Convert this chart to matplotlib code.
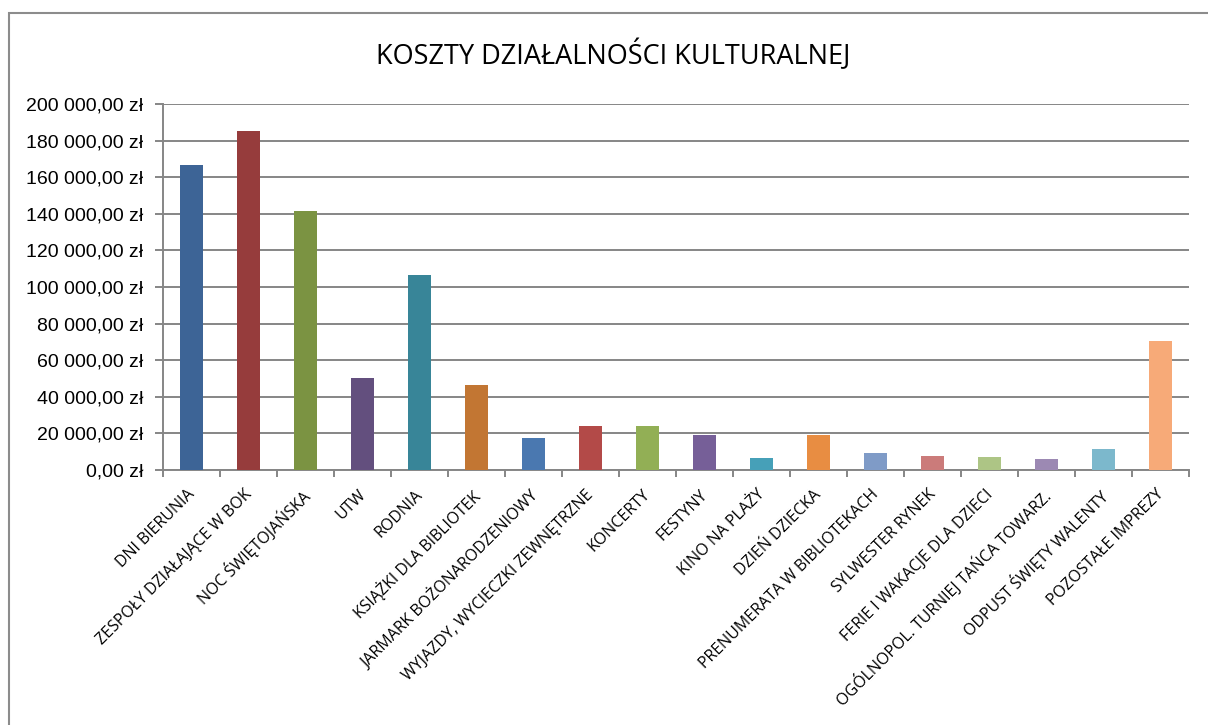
import matplotlib
matplotlib.use("Agg")
import matplotlib.pyplot as plt
from matplotlib.patches import Rectangle
from matplotlib.ticker import FuncFormatter
from matplotlib.transforms import ScaledTranslation

categories = [
    "DNI BIERUNIA", "ZESPOŁY DZIAŁAJĄCE W BOK", "NOC ŚWIĘTOJAŃSKA", "UTW", "RODNIA",
    "KSIĄŻKI DLA BIBLIOTEK", "JARMARK BOŻONARODZENIOWY", "WYJAZDY, WYCIECZKI ZEWNĘTRZNE",
    "KONCERTY", "FESTYNY", "KINO NA PLAŻY", "DZIEŃ DZIECKA", "PRENUMERATA W BIBLIOTEKACH",
    "SYLWESTER RYNEK", "FERIE I WAKACJE DLA DZIECI", "OGÓLNOPOL. TURNIEJ TAŃCA TOWARZ.",
    "ODPUST ŚWIĘTY WALENTY", "POZOSTAŁE IMPREZY",
]
values = [166400, 185000, 141800, 50400, 106800, 46500, 17500, 24100, 24100, 19200,
          6600, 19200, 9300, 7700, 7100, 6000, 11500, 70600]
colors = ["#3D6496", "#963C3C", "#7B9342", "#634F7E", "#388598", "#C27633", "#4A78B0",
          "#B34A48", "#92AF55", "#765F98", "#46A0B8", "#E88D42", "#7F9BC7", "#CB7B7A",
          "#ADC585", "#9C89B3", "#7CB8CC", "#F7AA78"]
title = "KOSZTY DZIAŁALNOŚCI KULTURALNEJ"
y_ticks = list(range(0, 200001, 20000))

fig = plt.figure(figsize=(12.08, 7.25), dpi=100)
fig.patch.set_facecolor("white")
# outer chart border
fig.patches.append(Rectangle((9 / 1208, -0.05), 1.2, 1 - 13 / 725 + 0.05,
                             transform=fig.transFigure, fill=False,
                             edgecolor="#8C8C8C", linewidth=1.5))

ax = fig.add_axes([163 / 1208, 1 - 470 / 725, (1189 - 163) / 1208, (470 - 104) / 725])
x = list(range(len(categories)))
ax.bar(x, values, width=0.40, color=colors, zorder=3)
ax.set_xlim(-0.5, len(categories) - 0.5)
ax.set_ylim(0, 200000)
ax.set_yticks(y_ticks)


def fmt(v, pos):
    s = f"{int(v):,}".replace(",", " ")
    return f"{s},00 zł"


ax.yaxis.set_major_formatter(FuncFormatter(fmt))
ax.grid(axis="y", color="#868686", linewidth=1.4, zorder=0)
for s in ["top", "right"]:
    ax.spines[s].set_visible(False)
ax.spines["left"].set_color("#868686")
ax.spines["left"].set_linewidth(1.4)
ax.spines["bottom"].set_color("#868686")
ax.spines["bottom"].set_linewidth(1.4)
ax.tick_params(axis="y", length=6, width=1.4, color="#868686", labelsize=14, pad=8,
               labelfontfamily="Liberation Sans", labelcolor="black")
# x ticks between categories
ax.set_xticks([i - 0.5 for i in range(len(categories) + 1)], minor=False)
ax.set_xticklabels([])
ax.tick_params(axis="x", length=5, width=1.4, color="#868686")
ax.set_xticks(x, minor=True)
ax.set_xticklabels(categories, minor=True, rotation=45, ha="right", va="top",
                   rotation_mode="anchor", fontsize=11.5, family="Open Sans")
ax.tick_params(axis="x", which="minor", length=0, pad=12)
offset = ScaledTranslation(-5 / 100, 0, fig.dpi_scale_trans)
for lab in ax.get_xticklabels(minor=True):
    lab.set_transform(lab.get_transform() + offset)

fig.text(613 / 1208, 1 - 55 / 725, title, ha="center", va="center", fontsize=19.5,
         family="Open Sans", color="black")

fig.savefig("out.png", dpi=100, facecolor="white")
